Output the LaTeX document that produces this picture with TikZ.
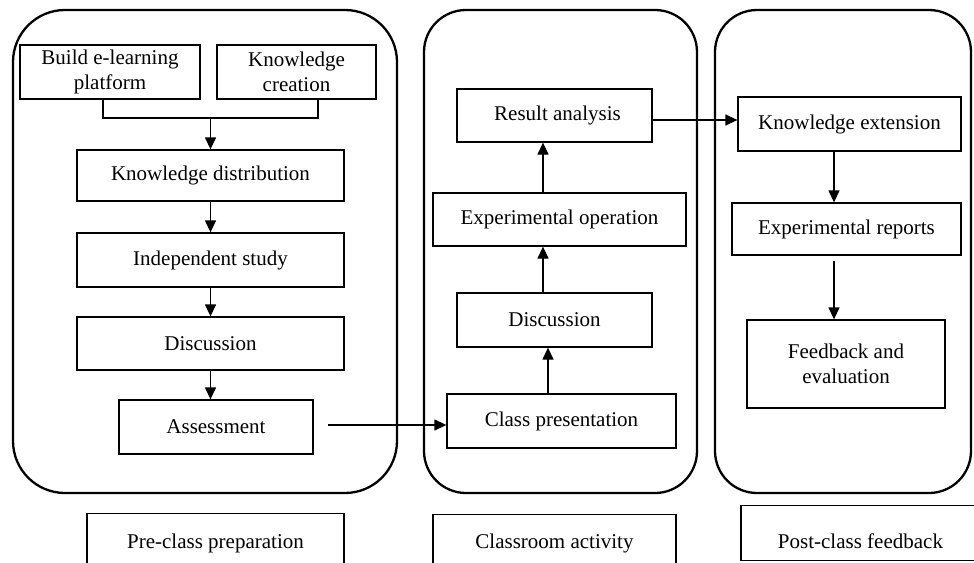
\documentclass[tikz,border=0pt]{standalone}
\usepackage{fontspec}
\setmainfont{Liberation Serif}
\usetikzlibrary{arrows.meta,calc}
\begin{document}
\begin{tikzpicture}[x=1pt,y=-1pt,
  font=\fontsize{21}{25}\selectfont,
  box/.style={draw, line width=1.3pt, inner sep=0pt, align=center},
  panel/.style={draw, line width=2.3pt, inner sep=0pt, minimum height=483pt},
  arr/.style={line width=1.3pt, -{Triangle[length=12pt,width=11pt]}},
  lbl/.style={draw, line width=1.3pt, inner sep=0pt, anchor=north}]
\useasboundingbox (0,0) rectangle (974,562);
\clip (0,0) rectangle (974,562);
\fill[white] (0,0) rectangle (974,562);

% panels
\node[panel, rounded corners=52pt, minimum width=384pt] (P1) at (205,251.5) {};
\node[panel, rounded corners=42pt, minimum width=273pt] (P2) at (560.5,251.5) {};
\node[panel, rounded corners=42pt, minimum width=256pt] (P3) at (843,251.5) {};

% pre-class boxes
\node[box, minimum width=180pt, minimum height=54pt] (B) at (110,72) {Build e-learning\\platform};
\node[box, minimum width=159pt, minimum height=54pt] (KC) at (296.5,72) {Knowledge\\creation};
\node[box, minimum width=267pt, minimum height=51pt] (KD) at (210.5,175.5) {Knowledge distribution};
\node[box, minimum width=267pt, minimum height=54pt] (IS) at (210.5,260) {Independent study};
\node[box, minimum width=267pt, minimum height=53pt] (D1) at (210.5,343.5) {Discussion};
\node[box, minimum width=194pt, minimum height=54pt] (AS) at (216,427) {Assessment};

% classroom boxes
\node[box, minimum width=195pt, minimum height=53pt] (RA) at (554.5,115.5) {\hspace{6pt}Result analysis};
\node[box, minimum width=253pt, minimum height=53pt] (EO) at (559.5,219.5) {Experimental operation};
\node[box, minimum width=195pt, minimum height=54pt] (D2) at (554.5,320) {Discussion};
\node[box, minimum width=229pt, minimum height=54pt] (CP) at (561.5,421) {Class presentation};

% post-class boxes
\node[box, minimum width=223pt, minimum height=54pt] (KE) at (849.5,124) {Knowledge extension};
\node[box, minimum width=229pt, minimum height=52pt] (ER) at (846.5,229) {Experimental reports};
\node[box, minimum width=198pt, minimum height=88pt] (FE) at (846,364) {Feedback and\\evaluation};

% bottom labels
\node[lbl, minimum width=257pt, text height=35pt, text depth=19pt] (L1) at (215.5,513) {Pre-class preparation};
\node[lbl, minimum width=243pt, text height=34pt, text depth=19pt] (L2) at (554.5,514) {Classroom activity};
\node[lbl, minimum width=239pt, text height=43pt, text depth=12pt] (L3) at (860.5,505) {Post-class feedback};

% connectors
\coordinate (xb) at (103,0);
\coordinate (xk) at (318,0);
\coordinate (j) at (210.5,118);
\draw[line width=1.3pt] (B.south -| xb) -- (xb |- j) -- (xk |- j) -- (KC.south -| xk);
\draw[arr] (j) -- (KD.north);
\draw[arr] (KD.south) -- (IS.north);
\draw[arr] (IS.south) -- (D1.north);
\draw[arr] (D1.south) -- (D1.south |- AS.north);

\coordinate (a0) at (328,425);
\draw[arr] (a0) -- (a0 -| CP.west);

\coordinate (x2) at (548,0);
\coordinate (x3) at (543,0);
\draw[arr] (CP.north -| x2) -- (D2.south -| x2);
\draw[arr] (D2.north -| x3) -- (EO.south -| x3);
\draw[arr] (EO.north -| x3) -- (RA.south -| x3);

\coordinate (r0) at (652,120);
\draw[arr] (RA.east |- r0) -- (KE.west |- r0);

\coordinate (x4) at (834,0);
\draw[arr] (KE.south -| x4) -- (ER.north -| x4);
\draw[arr] ($(ER.south -| x4)+(0,5)$) -- (FE.north -| x4);
\end{tikzpicture}
\end{document}
